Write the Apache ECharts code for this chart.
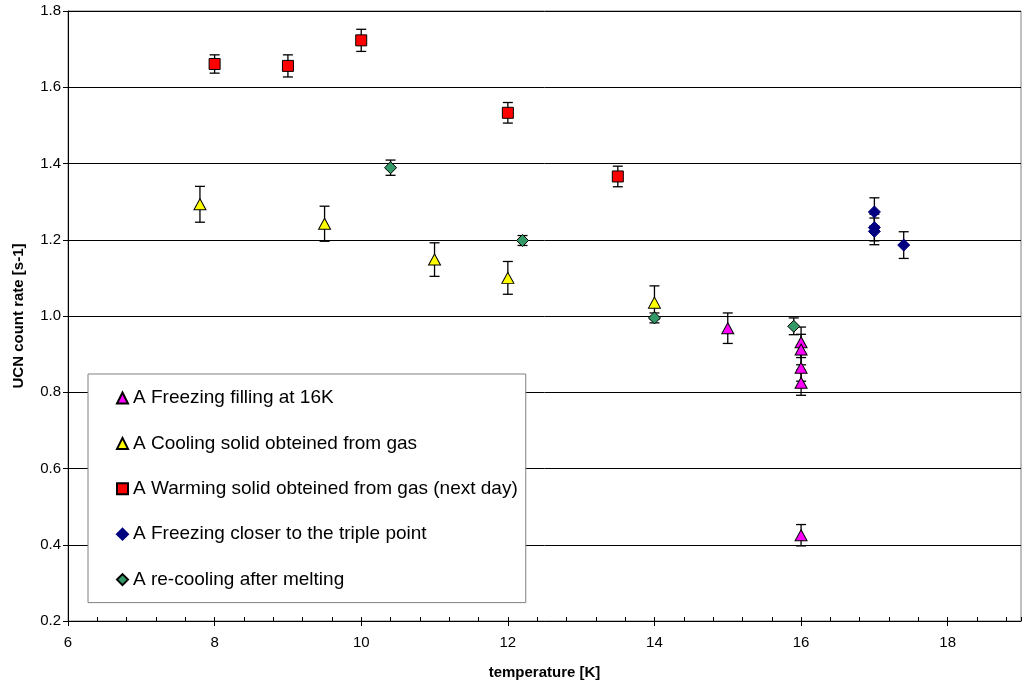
<!DOCTYPE html>
<html>
<head>
<meta charset="utf-8">
<script src="https://cdn.jsdelivr.net/npm/echarts@6/dist/echarts.min.js"></script>
<style>
  html, body { margin: 0; padding: 0; background: #fff; }
  #chart { width: 1024px; height: 685px; }
</style>
</head>
<body>
<div id="chart"></div>
<script>
// UCN count rate versus temperature for the different solid preparations.
// Each group: temperatures [K], count rates [s-1], symmetric errors [s-1].
const freezeT = [15, 16, 16, 16, 16, 16];
const freezeRate = [0.968, 0.931, 0.912, 0.864, 0.825, 0.425];
const freezeErr = [0.040, 0.040, 0.040, 0.035, 0.033, 0.028];

const coolT = [7.8, 9.5, 11, 12, 14];
const coolRate = [1.293, 1.242, 1.148, 1.100, 1.035];
const coolErr = [0.047, 0.046, 0.044, 0.043, 0.044];

const warmT = [8, 9, 10, 12, 13.5];
const warmRate = [1.661, 1.656, 1.723, 1.533, 1.366];
const warmErr = [0.024, 0.029, 0.029, 0.027, 0.027];

const tripleT = [17, 17, 17, 17.4];
const tripleRate = [1.273, 1.232, 1.222, 1.186];
const tripleErr = [0.037, 0.035, 0.035, 0.035];

const recoolT = [10.4, 12.2, 14, 15.9];
const recoolRate = [1.389, 1.198, 0.995, 0.973];
const recoolErr = [0.020, 0.013, 0.013, 0.022];

const xTicks = [6, 8, 10, 12, 14, 16, 18];

const groups = [
  { name: 'A Freezing filling at 16K', t: freezeT, r: freezeRate, e: freezeErr,
    symbol: 'triangle', size: [12, 11], color: '#FF00FF', border: '#000' },
  { name: 'A Cooling solid obteined from gas', t: coolT, r: coolRate, e: coolErr,
    symbol: 'triangle', size: [12, 11], color: '#FFFF00', border: '#000' },
  { name: 'A Warming solid obteined from gas (next day)', t: warmT, r: warmRate, e: warmErr,
    symbol: 'rect', size: [11, 11], color: '#FF0000', border: '#000' },
  { name: 'A Freezing closer to the triple point', t: tripleT, r: tripleRate, e: tripleErr,
    symbol: 'diamond', size: [12, 12], color: '#000080', border: '#000080' },
  { name: 'A re-cooling after melting', t: recoolT, r: recoolRate, e: recoolErr,
    symbol: 'diamond', size: [12, 12], color: '#339966', border: '#000' }
];

const FONT = "'Liberation Sans', Arial, sans-serif";

// Vertical error bar with short caps at both ends.
function renderErrorBar(params, api) {
  const x = api.value(0), y = api.value(1), e = api.value(2);
  const top = api.coord([x, y + e]);
  const bot = api.coord([x, y - e]);
  const hw = 5;
  const st = { stroke: '#000', lineWidth: 1.3 };
  return {
    type: 'group',
    children: [
      { type: 'line', shape: { x1: top[0], y1: top[1], x2: bot[0], y2: bot[1] }, style: st },
      { type: 'line', shape: { x1: top[0] - hw, y1: top[1], x2: top[0] + hw, y2: top[1] }, style: st },
      { type: 'line', shape: { x1: bot[0] - hw, y1: bot[1], x2: bot[0] + hw, y2: bot[1] }, style: st }
    ]
  };
}

const series = [];
groups.forEach(function (g, i) {
  series.push({
    name: 'err' + i,
    type: 'custom',
    renderItem: renderErrorBar,
    data: g.t.map(function (t, k) { return [t, g.r[k], g.e[k]]; }),
    z: 2,
    silent: true
  });
});
groups.forEach(function (g) {
  series.push({
    name: g.name,
    type: 'scatter',
    symbol: g.symbol,
    symbolSize: g.size,
    itemStyle: { color: g.color, borderColor: g.border, borderWidth: 1, opacity: 1 },
    data: g.t.map(function (t, k) { return [t, g.r[k]]; }),
    z: 3
  });
});

const chart = echarts.init(document.getElementById('chart'), null, { renderer: 'canvas' });
chart.setOption({
  animation: false,
  backgroundColor: '#fff',
  textStyle: { fontFamily: FONT },
  grid: { left: 68, right: 3, top: 11, bottom: 63, show: true, borderColor: '#808080', borderWidth: 1 },
  legend: {
    data: groups.map(function (g) { return g.name; }),
    orient: 'vertical',
    left: 88,
    top: 374,
    padding: [13, 8, 12, 28],
    itemGap: 23.4,
    itemWidth: 11,
    itemHeight: 11,
    backgroundColor: '#fff',
    borderColor: '#808080',
    borderWidth: 1,
    borderRadius: 0,
    textStyle: { fontFamily: FONT, fontSize: 19, color: '#000', lineHeight: 22 },
    z: 5
  },
  xAxis: [
    {
      type: 'value', min: 6, max: 19, interval: 2, position: 'bottom',
      name: 'temperature [K]', nameLocation: 'middle', nameGap: 44,
      nameTextStyle: { fontFamily: FONT, fontSize: 15, fontWeight: 'bold', color: '#000' },
      axisLine: { show: true, lineStyle: { color: '#000', width: 1 } },
      axisTick: { show: true, inside: false, length: 5, lineStyle: { color: '#000' },
        customValues: xTicks },
      axisLabel: { fontFamily: FONT, fontSize: 15, color: '#000', margin: 14,
        customValues: xTicks },
      splitLine: { show: false }
    },
    {
      type: 'value', min: 6, max: 19, interval: 0.4, position: 'bottom', offset: 0,
      axisLine: { show: false },
      axisTick: { show: true, inside: true, length: 4, lineStyle: { color: '#000' } },
      axisLabel: { show: false },
      splitLine: { show: false }
    }
  ],
  yAxis: {
    type: 'value', min: 0.2, max: 1.8, interval: 0.2,
    name: 'UCN count rate [s-1]', nameLocation: 'middle', nameGap: 42,
    nameTextStyle: { fontFamily: FONT, fontSize: 15, fontWeight: 'bold', color: '#000' },
    axisLine: { show: true, lineStyle: { color: '#000', width: 1 } },
    axisTick: { show: true, inside: false, length: 5, lineStyle: { color: '#000' } },
    axisLabel: { fontFamily: FONT, fontSize: 15, color: '#000', margin: 7,
      formatter: function (v) { return (Math.round(v * 10) / 10).toFixed(1); } },
    splitLine: { show: true, lineStyle: { color: '#000', width: 1 } }
  },
  series: series
});
</script>
</body>
</html>
